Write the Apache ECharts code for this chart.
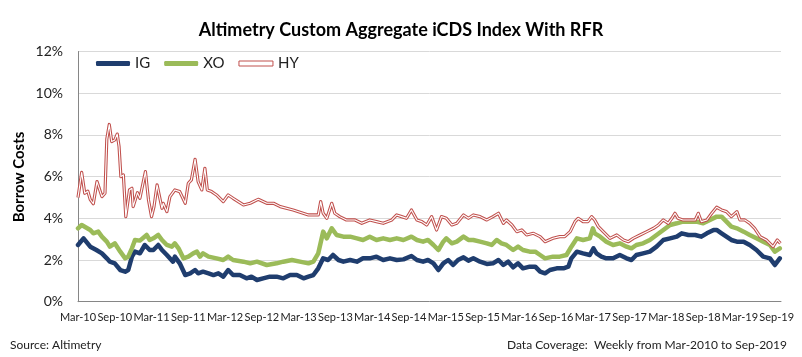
<!DOCTYPE html>
<html>
<head>
<meta charset="utf-8">
<script src="https://cdn.jsdelivr.net/npm/echarts@6/dist/echarts.min.js"></script>
<style>
html,body{margin:0;padding:0;background:#fff;}
#chart{width:802px;height:357px;}
</style>
</head>
<body>
<div id="chart"></div>
<script>
// x values are months since Mar-2010
const tickLabels = ['Mar-10','Sep-10','Mar-11','Sep-11','Mar-12','Sep-12','Mar-13','Sep-13','Mar-14','Sep-14',
  'Mar-15','Sep-15','Mar-16','Sep-16','Mar-17','Sep-17','Mar-18','Sep-18','Mar-19','Sep-19'];

const igData = [[0,2.72],[0.9,3.04],[2.0,2.64],[3.0,2.48],[3.9,2.32],[4.7,2.08],[5.2,1.92],[6.0,1.84],[6.9,1.52],[7.7,1.44],
  [8.2,1.52],[8.8,2.16],[9.3,2.4],[10.1,2.32],[10.9,2.72],[11.7,2.48],[12.3,2.48],[13.1,2.72],[13.7,2.48],[14.5,2.24],
  [15.5,1.92],[15.8,2.16],[16.6,1.84],[17.5,1.28],[18.3,1.36],[19.1,1.52],[19.6,1.36],[20.4,1.44],[21.3,1.36],[22.1,1.28],
  [22.9,1.36],[23.7,1.2],[24.5,1.52],[25.3,1.28],[26.4,1.28],[27.5,1.12],[28.3,1.2],[29.2,1.04],[30.2,1.12],[31.3,1.2],
  [32.4,1.2],[33.5,1.12],[34.6,1.28],[35.7,1.28],[36.8,1.12],[37.6,1.2],[38.4,1.28],[39.2,1.6],[40.0,2.08],[40.8,2.0],
  [41.6,2.24],[42.5,2.0],[43.3,1.92],[44.4,2.0],[45.5,1.92],[46.5,2.08],[47.6,2.08],[48.7,2.16],[49.8,2.0],[50.9,2.08],
  [52.0,2.0],[53.1,2.03],[54.4,2.19],[55.3,2.0],[56.3,1.92],[57.1,2.0],[58.0,1.84],[58.8,1.52],[59.6,1.84],[60.4,2.0],
  [61.2,1.76],[62.0,2.0],[62.9,2.13],[63.7,1.97],[64.5,2.08],[65.6,1.92],[66.7,1.81],[67.7,1.84],[68.6,2.0],[69.4,1.76],
  [70.2,1.92],[71.0,1.65],[71.8,1.84],[72.6,1.6],[73.7,1.68],[74.6,1.68],[75.4,1.44],[76.2,1.36],[77.0,1.52],[78.1,1.6],
  [79.2,1.6],[80.0,1.68],[80.5,2.08],[81.4,2.4],[82.4,2.32],[83.5,2.24],[84.1,2.56],[84.6,2.32],[85.4,2.16],[86.2,2.08],
  [87.3,2.08],[88.4,2.24],[89.5,2.08],[90.3,2.0],[91.1,2.24],[92.2,2.32],[93.3,2.4],[94.4,2.64],[95.5,2.96],[96.6,3.04],
  [97.7,3.12],[98.5,3.28],[99.6,3.2],[100.7,3.2],[101.7,3.12],[102.6,3.28],[103.7,3.44],[104.2,3.44],[105.0,3.28],[105.8,3.12],
  [106.6,2.96],[107.5,2.88],[108.6,2.88],[109.6,2.72],[110.7,2.48],[111.8,2.16],[112.9,2.08],[113.7,1.76],[114.5,2.08]];

const xoData = [[0,3.52],[0.6,3.68],[2.0,3.44],[2.5,3.28],[3.3,3.36],[3.9,3.12],[4.7,2.88],[5.2,2.64],[6.0,2.8],[6.9,2.4],
  [7.7,2.08],[8.2,2.16],[8.8,2.56],[9.3,2.96],[10.1,2.93],[11.2,3.2],[11.7,2.96],[12.3,3.04],[13.1,3.2],[13.7,2.96],
  [14.5,2.72],[15.3,2.64],[15.8,2.8],[16.4,2.56],[17.2,2.08],[18.0,2.16],[18.8,2.32],[19.4,2.4],[19.9,2.16],[20.4,2.32],
  [21.3,2.16],[22.6,2.08],[23.7,2.0],[24.5,2.16],[25.3,2.0],[27.0,1.92],[28.1,1.84],[29.2,1.92],[30.8,1.76],[32.4,1.84],
  [33.5,1.92],[34.9,2.0],[36.2,1.92],[37.6,1.84],[38.4,1.92],[39.2,2.32],[40.0,3.36],[40.6,3.04],[41.4,3.52],[42.2,3.2],
  [43.3,3.12],[44.4,3.12],[45.5,3.04],[46.5,2.96],[47.6,3.12],[48.7,2.96],[49.8,3.04],[50.9,2.96],[52.0,3.04],[53.1,2.96],
  [54.4,3.12],[55.3,2.96],[56.3,2.88],[57.1,2.96],[58.0,2.72],[58.8,2.48],[59.6,2.88],[60.1,3.04],[61.0,2.8],[61.8,2.88],
  [62.9,3.12],[63.7,2.96],[64.5,2.96],[65.6,2.88],[66.7,2.8],[67.5,2.72],[68.3,2.96],[69.1,2.8],[69.9,2.72],[71.0,2.48],
  [71.8,2.64],[72.6,2.48],[73.7,2.4],[74.6,2.4],[75.4,2.24],[76.2,2.08],[77.5,2.16],[78.6,2.16],[79.7,2.24],[80.5,2.64],
  [81.4,3.04],[82.4,2.96],[83.5,3.04],[84.0,3.52],[84.3,3.28],[85.2,3.12],[86.2,2.88],[87.3,2.72],[88.4,2.8],[89.5,2.64],
  [90.3,2.56],[91.1,2.72],[92.2,2.8],[93.3,2.96],[94.4,3.2],[95.5,3.44],[96.6,3.68],[97.7,3.76],[98.7,3.84],[99.8,3.84],
  [100.9,3.84],[102.0,3.76],[103.1,3.92],[104.2,4.08],[105.0,4.08],[105.8,3.84],[106.6,3.6],[107.5,3.52],[108.6,3.36],[109.6,3.2],
  [110.7,3.04],[111.8,2.88],[112.9,2.72],[113.7,2.4],[114.5,2.56]];

const hyData = [[0,5.0],[0.6,6.2],[1.1,5.2],[1.6,5.3],[2.0,4.9],[2.5,4.7],[3.1,5.76],[3.9,5.04],[4.4,5.2],[4.7,7.8],
  [5.1,8.5],[5.5,7.68],[5.8,7.6],[6.0,7.76],[6.4,8.04],[6.7,7.44],[7.0,6.0],[7.4,6.08],[7.8,4.08],[8.4,5.36],
  [8.8,5.44],[9.0,4.56],[9.7,5.23],[10.1,4.96],[11.0,6.24],[11.5,4.88],[12.0,4.08],[12.4,4.56],[12.9,5.6],[13.7,4.48],
  [13.9,4.72],[14.5,4.32],[15.0,5.04],[15.8,5.36],[16.6,5.28],[17.5,4.72],[18.0,5.68],[18.5,5.84],[19.1,6.83],[19.6,5.76],
  [20.2,5.36],[20.7,6.4],[21.1,5.36],[21.8,5.28],[22.6,5.12],[23.7,4.8],[24.5,5.12],[25.3,4.96],[27.0,4.64],[28.1,4.72],
  [29.4,4.91],[30.8,4.72],[31.9,4.72],[33.0,4.56],[35.1,4.4],[37.6,4.16],[39.2,4.16],[39.6,4.8],[40.0,4.24],[40.6,4.0],
  [41.4,4.72],[41.9,4.24],[42.7,4.08],[43.8,3.92],[45.2,3.92],[46.3,3.76],[47.6,3.92],[48.7,3.84],[49.8,3.76],[51.2,3.92],
  [52.0,4.16],[52.8,4.08],[53.6,4.0],[54.4,4.4],[55.3,3.92],[56.1,3.84],[56.9,3.68],[57.7,4.08],[58.5,3.44],[59.3,4.08],
  [60.1,4.0],[61.0,3.68],[61.8,3.76],[62.9,4.16],[63.7,4.0],[64.5,4.16],[65.6,4.08],[66.7,3.92],[67.7,4.08],[68.6,4.24],
  [69.4,3.76],[69.9,3.92],[70.8,3.68],[71.6,3.36],[72.4,3.44],[73.2,3.2],[74.3,3.28],[75.4,3.12],[76.2,2.88],[77.5,3.04],
  [78.6,3.12],[79.4,3.12],[80.3,3.36],[81.1,3.84],[81.6,4.0],[82.4,3.84],[83.2,3.84],[83.8,4.08],[84.3,3.92],[84.9,3.6],
  [85.7,3.36],[86.8,3.04],[87.9,3.2],[89.0,2.96],[89.8,2.88],[90.6,3.04],[91.7,3.2],[92.8,3.36],[93.9,3.52],[94.7,3.68],
  [95.5,3.92],[96.3,3.76],[96.9,4.0],[97.4,4.24],[97.9,4.0],[98.7,3.92],[99.8,3.92],[100.7,3.92],[101.2,4.24],[101.7,3.84],
  [102.6,3.92],[103.4,4.24],[104.2,4.53],[105.0,4.4],[105.8,4.32],[106.6,4.08],[107.5,4.32],[108.0,3.92],[108.8,3.92],[109.6,3.76],
  [110.4,3.52],[111.3,3.12],[112.3,2.96],[113.4,2.64],[114.1,2.96],[114.6,2.8]];

const FONT = 'Lato, "Open Sans", sans-serif';
const IG_C = '#1F3D6E', XO_C = '#9BBB59', HY_C = '#C0504D';

const chart = echarts.init(document.getElementById('chart'), null, {renderer: 'canvas'});
chart.setOption({
  animation: false,
  backgroundColor: '#fff',
  textStyle: {fontFamily: FONT},
  title: {
    text: 'Altimetry Custom Aggregate iCDS Index With RFR',
    left: 'center', top: 21, padding: 0,
    textStyle: {fontFamily: FONT, fontSize: 18, fontWeight: 'bold', color: '#000'}
  },
  legend: {
    left: 91, top: 51, itemWidth: 34, itemHeight: 5, itemGap: 14,
    textStyle: {fontFamily: FONT, fontSize: 15, color: '#222'},
    data: [
      {name: 'IG', icon: 'roundRect', itemStyle: {color: IG_C, borderWidth: 0}},
      {name: 'XO', icon: 'roundRect', itemStyle: {color: XO_C, borderWidth: 0}},
      {name: 'HY', icon: 'rect', itemStyle: {color: '#fff', borderColor: HY_C, borderWidth: 1}}
    ]
  },
  grid: {left: 78, right: 21, top: 51.5, bottom: 55.3},
  xAxis: {
    type: 'value', min: 0, max: 114.7, interval: 6,
    axisLine: {show: true, lineStyle: {color: '#868686', width: 1}},
    axisTick: {show: false},
    splitLine: {show: false},
    axisLabel: {
      margin: 10, fontSize: 11, color: '#222', fontFamily: FONT,
      showMaxLabel: false,
      formatter: function (v) {
        const k = v / 6;
        return Math.abs(k - Math.round(k)) < 1e-6 ? (tickLabels[Math.round(k)] || '') : '';
      }
    }
  },
  yAxis: {
    type: 'value', min: 0, max: 12, interval: 2,
    axisLine: {show: true, lineStyle: {color: '#868686', width: 1}},
    axisTick: {show: false},
    splitLine: {show: true, lineStyle: {color: '#d9d9d9', width: 1}},
    axisLabel: {margin: 15, fontSize: 14, color: '#222', fontFamily: FONT, formatter: '{value}%'}
  },
  graphic: [
    {type: 'text', x: 19, y: 177, rotation: Math.PI / 2,
      style: {text: 'Borrow Costs', fontFamily: FONT, fontSize: 15, fontWeight: 'bold', fill: '#000',
        textAlign: 'center', textVerticalAlign: 'middle'}},
    {type: 'text', left: 10, top: 339,
      style: {text: 'Source: Altimetry', fontFamily: FONT, fontSize: 12, fill: '#222'}},
    {type: 'text', right: 15, top: 339,
      style: {text: 'Data Coverage:  Weekly from Mar-2010 to Sep-2019', fontFamily: FONT, fontSize: 12, fill: '#222'}}
  ],
  series: [
    {name: 'IG', type: 'line', data: igData, showSymbol: false, symbol: 'none',
      lineStyle: {color: IG_C, width: 4.5, join: 'round', cap: 'round'}, itemStyle: {color: IG_C}, z: 2},
    {name: 'XO', type: 'line', data: xoData, showSymbol: false, symbol: 'none',
      lineStyle: {color: XO_C, width: 4.5, join: 'round', cap: 'round'}, itemStyle: {color: XO_C}, z: 3},
    {name: 'HY', type: 'line', data: hyData, showSymbol: false, symbol: 'none',
      lineStyle: {color: HY_C, width: 3.2, join: 'round'}, itemStyle: {color: HY_C}, z: 4},
    {name: 'HY inner', type: 'line', data: hyData, showSymbol: false, symbol: 'none',
      lineStyle: {color: '#fff', width: 1.1, join: 'round'}, itemStyle: {color: '#fff'}, z: 5}
  ]
});
</script>
</body>
</html>
